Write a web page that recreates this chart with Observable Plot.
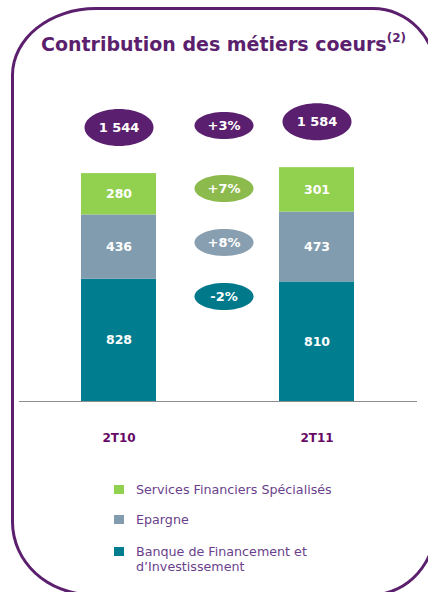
<!DOCTYPE html>
<html>
<head>
<meta charset="utf-8">
<script src="https://cdn.jsdelivr.net/npm/d3@7"></script>
<script src="https://cdn.jsdelivr.net/npm/@observablehq/plot@0.6"></script>
<style>
  html, body { margin: 0; padding: 0; background: #fff; }
  body { width: 428px; height: 592px; overflow: hidden; position: relative; font-family: "DejaVu Sans", Verdana, sans-serif; }
  #frame { position: absolute; left: 11px; top: 7px; width: 421px; height: 583px; border: 3px solid #5b1f6e;
           border-radius: 85px 65px 65px 80px / 68px 68px 74px 74px; }
  #title { position: absolute; left: 41px; top: 33px; font-size: 19px; font-weight: bold; color: #5b1f6e; white-space: nowrap; }
  #title sup { font-size: 12px; vertical-align: 0; position: relative; top: -9px; }
  #chart { position: absolute; left: 0; top: 60px; }
  #legend { position: absolute; left: 114px; top: 482px; font-size: 12.7px; color: #6b3f8c; }
  .item { position: relative; padding-left: 22px; line-height: 15px; }
  .sw { position: absolute; left: 0; top: 3px; width: 10px; height: 9px; }
</style>
</head>
<body>
<div id="frame"></div>
<div id="title">Contribution des métiers coeurs<sup>(2)</sup></div>
<div id="chart"></div>
<div id="legend"></div>
<script>
// ---- data ----
const periods = ["2T10", "2T11"];
const segments = ["Banque de Financement et d\u2019Investissement", "Epargne", "Services Financiers Spécialisés"];
const bfiValues = [828, 810];
const epargneValues = [436, 473];
const sfsValues = [280, 301];
const totals = [1544, 1584];
const changeLabels = ["+3%", "+7%", "+8%", "-2%"];
const colors = ["#007d8f", "#819caf", "#92d050"];
const changeColors = ["#5a1f6e", "#8cba4c", "#889fb1", "#00798b"];
const legendLines = [
  ["Services Financiers Spécialisés"],
  ["Epargne"],
  ["Banque de Financement et", "d\u2019Investissement"]
];

// ---- build table ----
const rows = [];
periods.forEach((p, i) => {
  rows.push({period: p, segment: segments[0], value: bfiValues[i]});
  rows.push({period: p, segment: segments[1], value: epargneValues[i]});
  rows.push({period: p, segment: segments[2], value: sfsValues[i]});
});
const totalRows = periods.map((p, i) => ({period: p, total: totals[i]}));

function ellipse(rx, ry) {
  const k = 0.5523;
  return {draw(ctx) {
    ctx.moveTo(rx, 0);
    ctx.bezierCurveTo(rx, ry * k, rx * k, ry, 0, ry);
    ctx.bezierCurveTo(-rx * k, ry, -rx, ry * k, -rx, 0);
    ctx.bezierCurveTo(-rx, -ry * k, -rx * k, -ry, 0, -ry);
    ctx.bezierCurveTo(rx * k, -ry, rx, -ry * k, rx, 0);
    ctx.closePath();
  }};
}

const mid = "\u0394";
const changeOffsets = [65, 128, 182, 236];
const font = "DejaVu Sans, Verdana, sans-serif";

const changeMarks = changeLabels.flatMap((c, i) => [
  Plot.dot([c], {x: () => mid, frameAnchor: "top", dy: changeOffsets[i], dx: 6,
    symbol: ellipse(29.5, 13.5), r: 1, fill: changeColors[i], stroke: null}),
  Plot.text([c], {x: () => mid, frameAnchor: "top", lineAnchor: "middle", dy: changeOffsets[i], dx: 6, text: d => d,
    fill: "white", fontWeight: "bold", fontSize: 13, fontFamily: font})
]);

const plot = Plot.plot({
  width: 428,
  height: 400,
  marginTop: 0,
  marginBottom: 59,
  marginLeft: 19,
  marginRight: 11,
  style: {fontFamily: font, background: "transparent", overflow: "visible"},
  x: {type: "band", domain: [periods[0], mid, periods[1]], paddingInner: 0.2424, paddingOuter: 0.6313, axis: null},
  y: {domain: [0, 2310], axis: null},
  color: {domain: segments, range: colors},
  marks: [
    Plot.barY(rows, {x: "period", y: "value", z: "segment", fill: "segment", order: segments}),
    Plot.text(rows, Plot.stackY({x: "period", y: "value", z: "segment", text: d => String(d.value), order: segments,
      fill: "white", fontWeight: "bold", fontSize: 12.5, fontFamily: font})),
    Plot.ruleY([0], {stroke: "#8c8c8c", strokeWidth: 1}),
    Plot.dot(totalRows, {x: "period", y: "total", dy: -46, symbol: ellipse(34.5, 18.5), r: 1, fill: "#5a1f6e", stroke: null}),
    Plot.text(totalRows, {x: "period", y: "total", dy: -46, text: d => d3.format(",")(d.total).replace(",", " "),
      fill: "white", fontWeight: "bold", fontSize: 13, fontFamily: font}),
    ...changeMarks,
    Plot.text(periods, {x: d => d, frameAnchor: "bottom", lineAnchor: "middle", dy: 37, text: d => d,
      fill: "#660a66", fontWeight: "bold", fontSize: 12, fontFamily: font})
  ]
});
document.getElementById("chart").appendChild(plot);

// legend
const leg = document.getElementById("legend");
const legColors = [colors[2], colors[1], colors[0]];
const legTops = [0, 30, 62];
legendLines.forEach((lines, i) => {
  const div = document.createElement("div");
  div.className = "item";
  div.style.position = "absolute";
  div.style.top = legTops[i] + "px";
  div.style.whiteSpace = "nowrap";
  const sw = document.createElement("span");
  sw.className = "sw";
  sw.style.background = legColors[i];
  div.appendChild(sw);
  div.appendChild(document.createTextNode(lines[0]));
  for (let k = 1; k < lines.length; k++) {
    div.appendChild(document.createElement("br"));
    div.appendChild(document.createTextNode(lines[k]));
  }
  leg.appendChild(div);
});
</script>
</body>
</html>
